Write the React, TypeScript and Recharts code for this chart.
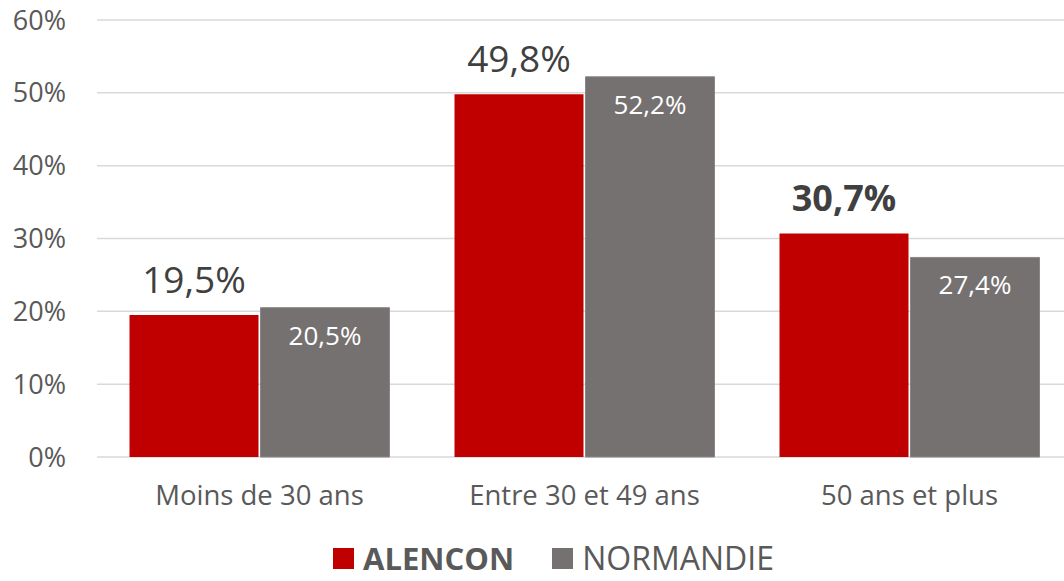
import { BarChart, Bar, XAxis, YAxis, CartesianGrid, Legend, LabelList } from 'recharts';

const categories = ['Moins de 30 ans', 'Entre 30 et 49 ans', '50 ans et plus'];
const alencon = [19.5, 49.8, 30.7];
const normandie = [20.5, 52.2, 27.4];
const yTicks = [0, 10, 20, 30, 40, 50, 60];

const FONT = '"Open Sans", sans-serif';
const RED = '#C00000';
const GRAY = '#767171';

const data = categories.map((name, i) => ({
  name,
  alencon: alencon[i],
  normandie: normandie[i],
}));

const fmt = (v: number) => `${v.toFixed(1).replace('.', ',')}%`;

const AlenconLabel = (props: any) => {
  const { x, y, width, value, index } = props;
  const bold = index === 2;
  return (
    <text
      x={x + width / 2}
      y={y - 22}
      textAnchor="middle"
      fill="#404040"
      fontFamily={FONT}
      fontSize={bold ? 36 : 37}
      fontWeight={bold ? 700 : 400}
    >
      {fmt(value)}
    </text>
  );
};

const NormandieLabel = (props: any) => {
  const { x, y, width, value } = props;
  return (
    <text
      x={x + width / 2}
      y={y + 37}
      textAnchor="middle"
      fill="#ffffff"
      fontFamily={FONT}
      fontSize={26}
    >
      {fmt(value)}
    </text>
  );
};

const LegendContent = () => (
  <div
    style={{
      height: 54,
      display: 'flex',
      justifyContent: 'center',
      alignItems: 'flex-end',
      fontFamily: FONT,
      fontSize: 31,
      lineHeight: '34px',
      color: '#595959',
      paddingLeft: 35,
    }}
  >
    <div style={{ display: 'flex', alignItems: 'center', marginRight: 38, marginBottom: 6 }}>
      <span style={{ width: 21, height: 21, background: RED, display: 'inline-block', marginRight: 9 }} />
      <span style={{ fontWeight: 700 }}>ALENCON</span>
    </div>
    <div style={{ display: 'flex', alignItems: 'center', marginBottom: 6 }}>
      <span style={{ width: 21, height: 21, background: GRAY, display: 'inline-block', marginRight: 9 }} />
      <span style={{ fontSize: 32 }}>NORMANDIE</span>
    </div>
  </div>
);

export default function App() {
  return (
    <div style={{ position: 'absolute', left: 0, top: 0, width: 1064, height: 581, overflow: 'hidden', background: '#fff' }}>
      <BarChart
        width={1080}
        height={581}
        data={data}
        margin={{ top: 20, right: 8, left: 0, bottom: 0 }}
        barCategoryGap="10%"
        barGap={2}
      >
        <CartesianGrid vertical={false} stroke="#d9d9d9" strokeWidth={1.5} />
        <XAxis
          dataKey="name"
          axisLine={false}
          tickLine={false}
          tickSize={0}
          tickMargin={28}
          height={70}
          tick={{ fontFamily: FONT, fontSize: 27.5, fill: '#595959' }}
        />
        <YAxis
          domain={[0, 60]}
          ticks={yTicks}
          width={97}
          axisLine={false}
          tickLine={false}
          tickSize={0}
          tickMargin={31}
          tickFormatter={(v) => `${v}%`}
          tick={{ fontFamily: FONT, fontSize: 27, fill: '#595959' }}
        />
        <Legend verticalAlign="bottom" content={<LegendContent />} />
        <Bar dataKey="alencon" name="ALENCON" fill={RED} isAnimationActive={false}>
          <LabelList dataKey="alencon" content={<AlenconLabel />} />
        </Bar>
        <Bar dataKey="normandie" name="NORMANDIE" fill={GRAY} stroke="#8a8686" strokeWidth={1} isAnimationActive={false}>
          <LabelList dataKey="normandie" content={<NormandieLabel />} />
        </Bar>
      </BarChart>
    </div>
  );
}
